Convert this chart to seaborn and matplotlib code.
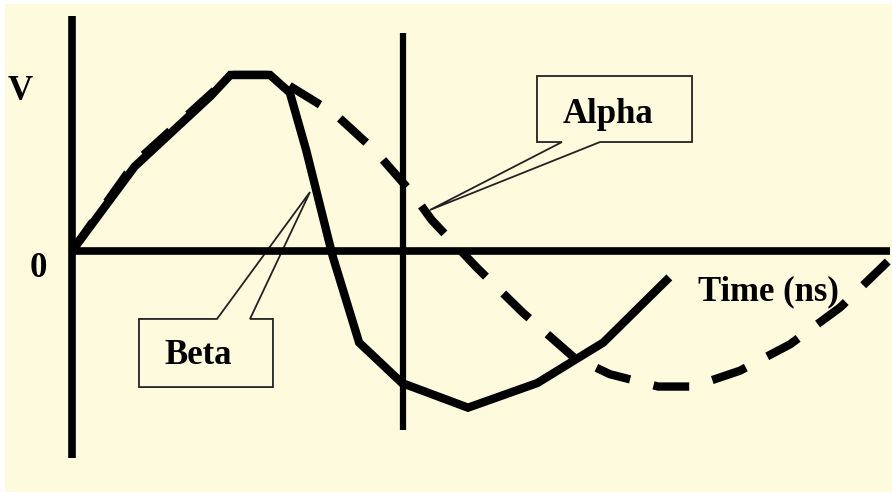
import matplotlib
matplotlib.use("Agg")
import matplotlib.pyplot as plt
import seaborn as sns
import pandas as pd
from matplotlib.patches import Polygon

# ---- data (time in ns, voltage in arbitrary units) ----
beta_t = [0, 0.95, 2.1, 2.4, 3.0, 3.3, 3.55, 3.95, 4.35, 5.0, 6.0, 7.05, 8.05, 9.05]
beta_v = [0, 0.48, 0.88, 1.0, 1.0, 0.9, 0.57, -0.03, -0.52, -0.75, -0.89, -0.75, -0.52, -0.15]

alpha_t = [0, 0.95, 2.17, 2.42, 3.03, 3.33, 3.98, 4.59, 5.15, 5.45, 6.14, 6.83, 7.59,
           8.15, 8.88, 9.41, 10.12, 10.88, 11.64, 12.36]
alpha_v = [0, 0.5, 0.915, 1.0, 1.0, 0.93, 0.78, 0.57, 0.33, 0.176, -0.097, -0.35, -0.60,
           -0.70, -0.77, -0.77, -0.68, -0.53, -0.32, -0.06]

labels = ["Alpha", "Beta"]
x_label = "Time (ns)"
y_label = "V"
zero_label = "0"

beta_df = pd.DataFrame({"t": beta_t, "v": beta_v})
alpha_df = pd.DataFrame({"t": alpha_t, "v": alpha_v})

sns.set_theme(style="white")
plt.rcParams["font.family"] = ["Liberation Serif", "DejaVu Serif"]

cream = "#FEFADD"
fig = plt.figure(figsize=(8.92, 4.93), dpi=100, facecolor="white")
ax = fig.add_axes([5 / 892, 1 / 493, 887 / 892, 488 / 493])
ax.set_facecolor(cream)
for s in ax.spines.values():
    s.set_visible(False)
ax.set_xticks([])
ax.set_yticks([])
ax.set_xlim(-1.015, 12.424)
ax.set_ylim(-1.369, 1.403)

# callout boxes (behind everything)
alpha_box = [(7.045, 0.994), (9.394, 0.994), (9.394, 0.619), (8.0, 0.619),
             (5.424, 0.233), (7.424, 0.619), (7.045, 0.619)]
beta_box = [(1.015, -0.386), (2.197, -0.386), (3.606, 0.335), (2.697, -0.386),
            (3.045, -0.386), (3.045, -0.773), (1.015, -0.773)]
for poly in (alpha_box, beta_box):
    ax.add_patch(Polygon(poly, closed=True, facecolor=cream, edgecolor="#222222",
                         lw=1.3, zorder=1))

# axes lines
ax.plot([0, 0], [-1.176, 1.335], color="black", lw=5.5, solid_capstyle="butt", zorder=3)
ax.plot([0, 12.39], [0, 0], color="black", lw=5.5, solid_capstyle="butt", zorder=3)
ax.plot([5.015, 5.015], [-1.017, 1.239], color="black", lw=4.5, solid_capstyle="butt", zorder=3)

# curves
sns.lineplot(data=beta_df, x="t", y="v", sort=False, estimator=None, color="black",
             lw=6, ax=ax, zorder=4, solid_joinstyle="miter", solid_capstyle="butt")
sns.lineplot(data=alpha_df, x="t", y="v", sort=False, estimator=None, color="black",
             lw=6, ax=ax, zorder=4, linestyle=(0, (4.3, 2.9)), dash_capstyle="butt")
ax.set_xlabel("")
ax.set_ylabel("")

txt = dict(fontsize=25, fontweight="bold", color="black", va="baseline", ha="center", zorder=5)
ax.text(-0.788, 0.858, y_label, **txt)
ax.text(-0.515, -0.148, zero_label, **txt)
ax.text(8.12, 0.727, labels[0], **txt)
ax.text(1.909, -0.642, labels[1], **txt)
ax.text(10.545, -0.278, x_label, **txt)

fig.savefig("out.png", dpi=100, facecolor="white")
